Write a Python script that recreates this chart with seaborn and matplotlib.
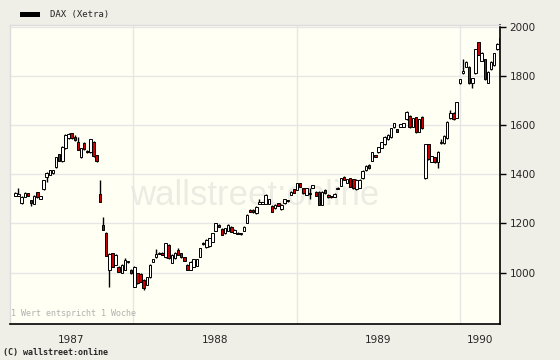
import numpy as np
import pandas as pd
import matplotlib
matplotlib.use('Agg')
import matplotlib.pyplot as plt
from matplotlib.patches import Rectangle
import seaborn as sns

# weekly DAX candles (open, close, high, low)
opens = [1312, 1313, 1282, 1308, 1323, 1296, 1279, 1327, 1301, 1339, 1388, 1397, 1404, 1428, 1482, 1453,
         1506, 1546, 1567, 1553, 1532, 1469, 1528, 1496, 1489, 1532, 1478, 1320, 1194, 1163, 1011, 1079,
         1031, 1024, 1000, 1011, 1043, 1011, 943, 997, 995, 970, 950, 981, 1045, 1063, 1077, 1081,
         1063, 1113, 1041, 1058, 1092, 1079, 1063, 1031, 1011, 1024, 1027, 1065, 1122, 1103, 1108, 1125,
         1171, 1194, 1178, 1160, 1171, 1187, 1163, 1159, 1156, 1171, 1203, 1255, 1255, 1241, 1279, 1280,
         1279, 1279, 1272, 1262, 1282, 1258, 1282, 1290, 1316, 1339, 1336, 1363, 1343, 1316, 1318, 1346,
         1329, 1329, 1275, 1336, 1316, 1307, 1309, 1341, 1354, 1390, 1366, 1384, 1380, 1339, 1345, 1384,
         1417, 1438, 1455, 1478, 1489, 1508, 1523, 1542, 1550, 1591, 1583, 1594, 1594, 1623, 1637, 1594,
         1632, 1573, 1634, 1384, 1522, 1451, 1469, 1451, 1526, 1526, 1546, 1628, 1650, 1630, 1770, 1810,
         1837, 1837, 1772, 1811, 1937, 1862, 1867, 1772, 1827, 1844, 1908, 1935]
closes = [1323, 1318, 1309, 1324, 1312, 1282, 1312, 1306, 1311, 1377, 1406, 1417, 1417, 1469, 1455, 1512,
          1560, 1564, 1546, 1539, 1499, 1506, 1502, 1489, 1542, 1474, 1455, 1289, 1174, 1068, 1076, 1024,
          1072, 1004, 1031, 1052, 1047, 997, 1024, 957, 963, 937, 981, 1031, 1054, 1076, 1081, 1072,
          1119, 1058, 1072, 1081, 1072, 1063, 1049, 1011, 1045, 1054, 1054, 1099, 1115, 1133, 1140, 1160,
          1201, 1187, 1153, 1180, 1194, 1167, 1174, 1162, 1159, 1187, 1235, 1248, 1246, 1268, 1289, 1286,
          1316, 1298, 1248, 1275, 1271, 1275, 1298, 1295, 1329, 1325, 1363, 1350, 1323, 1343, 1322, 1356,
          1312, 1275, 1329, 1323, 1306, 1311, 1320, 1345, 1384, 1377, 1380, 1350, 1343, 1377, 1377, 1415,
          1434, 1424, 1489, 1471, 1510, 1530, 1553, 1560, 1587, 1607, 1573, 1603, 1607, 1654, 1591, 1628,
          1571, 1624, 1587, 1523, 1461, 1474, 1449, 1492, 1532, 1556, 1614, 1648, 1623, 1693, 1786, 1820,
          1858, 1770, 1790, 1908, 1885, 1894, 1786, 1817, 1858, 1892, 1930, 1953]
highs = [1326, 1343, 1310, 1326, 1324, 1297, 1314, 1329, 1312, 1378, 1408, 1419, 1418, 1470, 1484, 1514,
         1562, 1566, 1569, 1560, 1553, 1508, 1530, 1498, 1544, 1534, 1480, 1377, 1226, 1165, 1078, 1081,
         1074, 1026, 1033, 1060, 1049, 1013, 1026, 999, 997, 972, 983, 1033, 1056, 1095, 1083, 1083,
         1121, 1115, 1074, 1083, 1100, 1081, 1065, 1033, 1047, 1056, 1056, 1101, 1124, 1135, 1142, 1162,
         1203, 1196, 1180, 1182, 1196, 1189, 1176, 1164, 1161, 1189, 1237, 1257, 1257, 1270, 1300, 1288,
         1318, 1300, 1274, 1277, 1284, 1277, 1300, 1297, 1331, 1341, 1365, 1365, 1345, 1345, 1343, 1358,
         1331, 1331, 1331, 1338, 1318, 1313, 1322, 1347, 1386, 1392, 1382, 1386, 1382, 1379, 1379, 1417,
         1436, 1440, 1491, 1480, 1512, 1532, 1555, 1562, 1589, 1609, 1585, 1605, 1609, 1656, 1639, 1630,
         1634, 1626, 1636, 1525, 1524, 1476, 1471, 1494, 1545, 1558, 1616, 1660, 1652, 1695, 1788, 1867,
         1860, 1839, 1792, 1910, 1939, 1896, 1869, 1819, 1860, 1894, 1932, 1955]
lows = [1310, 1311, 1280, 1306, 1310, 1271, 1277, 1304, 1300, 1337, 1370, 1395, 1402, 1426, 1453, 1451,
        1504, 1544, 1544, 1537, 1497, 1467, 1500, 1487, 1487, 1472, 1450, 1287, 1172, 1066, 943, 1022,
        1029, 1002, 998, 1009, 1041, 995, 941, 955, 961, 930, 948, 979, 1043, 1061, 1075, 1070,
        1061, 1056, 1039, 1056, 1070, 1061, 1047, 1009, 1009, 1022, 1025, 1063, 1113, 1101, 1106, 1123,
        1169, 1185, 1151, 1158, 1169, 1165, 1161, 1157, 1154, 1169, 1201, 1246, 1244, 1239, 1277, 1278,
        1277, 1277, 1246, 1260, 1269, 1256, 1280, 1288, 1314, 1323, 1334, 1348, 1321, 1314, 1300, 1344,
        1310, 1273, 1273, 1321, 1304, 1305, 1307, 1339, 1352, 1375, 1364, 1348, 1341, 1337, 1343, 1382,
        1415, 1422, 1453, 1469, 1487, 1506, 1521, 1540, 1548, 1589, 1571, 1592, 1592, 1621, 1589, 1592,
        1569, 1571, 1585, 1382, 1459, 1449, 1447, 1424, 1524, 1524, 1544, 1626, 1621, 1628, 1768, 1808,
        1835, 1768, 1752, 1809, 1883, 1860, 1784, 1770, 1825, 1842, 1906, 1933]

yticks = [1000, 1200, 1400, 1600, 1800, 2000]
years = [1987, 1988, 1989, 1990]

dates = pd.date_range('1987-04-13', periods=len(opens), freq='7D')
df = pd.DataFrame({'date': dates, 'open': opens, 'close': closes, 'high': highs, 'low': lows})
df['up'] = df['close'] >= df['open']
df['bottom'] = df[['open', 'close']].min(axis=1)
df['body'] = (df['close'] - df['open']).abs().clip(lower=4)

sns.set_style('white')
plt.rcParams['font.family'] = ['DejaVu Sans']

fig = plt.figure(figsize=(5.6, 3.6), dpi=100, facecolor='#efeee7')
ax = fig.add_axes([10 / 560, 36 / 360, 490 / 560, 299 / 360])
ax.set_facecolor('#fffff3')

# watermark
ax.text(0.5, 0.43, 'wallstreet:online', transform=ax.transAxes, ha='center', va='center',
        fontsize=25, color='#ececE4', family='Liberation Sans', zorder=0)

ax.vlines(df['date'], df['low'], df['high'], color='black', linewidth=1, zorder=2)
ax.bar(df['date'], df['body'], bottom=df['bottom'], width=5.6,
       color=np.where(df['up'], 'white', '#cc0000'), edgecolor='black', linewidth=0.7, zorder=3)

x0, x1 = pd.Timestamp('1987-04-01'), pd.Timestamp('1990-04-01')
ax.set_xlim(x0, x1)
ax.set_ylim(791, 2007)

ax.yaxis.tick_right()
ax.set_yticks(yticks)
ax.set_yticklabels([str(v) for v in yticks])

starts = [pd.Timestamp(f'{y}-01-01') for y in years[1:]]
ax.set_xticks(starts)
ax.set_xticklabels([])
mids = []
for y in years:
    a = max(pd.Timestamp(f'{y}-01-01'), x0)
    b = min(pd.Timestamp(f'{y + 1}-01-01'), x1)
    mids.append(a + (b - a) / 2)
ax.set_xticks(mids, minor=True)
ax.set_xticklabels([str(y) for y in years], minor=True)
ax.tick_params(axis='x', which='minor', length=0, pad=8, labelsize=7.5)
ax.tick_params(axis='x', which='major', length=4, width=1, color='black', direction='out')
ax.tick_params(axis='y', length=4, width=1, color='black', direction='out', labelsize=7.5, pad=3)

ax.grid(True, which='major', color='#e6e6e6', linewidth=1)
ax.set_axisbelow(True)
for s in ['top', 'left']:
    ax.spines[s].set_color('#dcdcdc')
    ax.spines[s].set_linewidth(1)
for s in ['bottom', 'right']:
    ax.spines[s].set_color('black')
    ax.spines[s].set_linewidth(1.2)

ax.text(0.002, 0.02, '1 Wert entspricht 1 Woche', transform=ax.transAxes, fontsize=6,
        color='#b0b0b0', family='DejaVu Sans Mono', va='bottom')

fig.patches.append(Rectangle((20 / 560, 1 - 16.5 / 360), 20 / 560, 5 / 360, transform=fig.transFigure,
                             facecolor='black', edgecolor='none'))
fig.text(50 / 560, 1 - 14 / 360, 'DAX (Xetra)', fontsize=6.5, family='DejaVu Sans Mono', va='center')
fig.text(3 / 560, 1 - 353 / 360, '(C) wallstreet:online', fontsize=6, family='DejaVu Sans Mono',
         va='center', weight='bold')

fig.savefig('out.png', dpi=100, facecolor=fig.get_facecolor())
